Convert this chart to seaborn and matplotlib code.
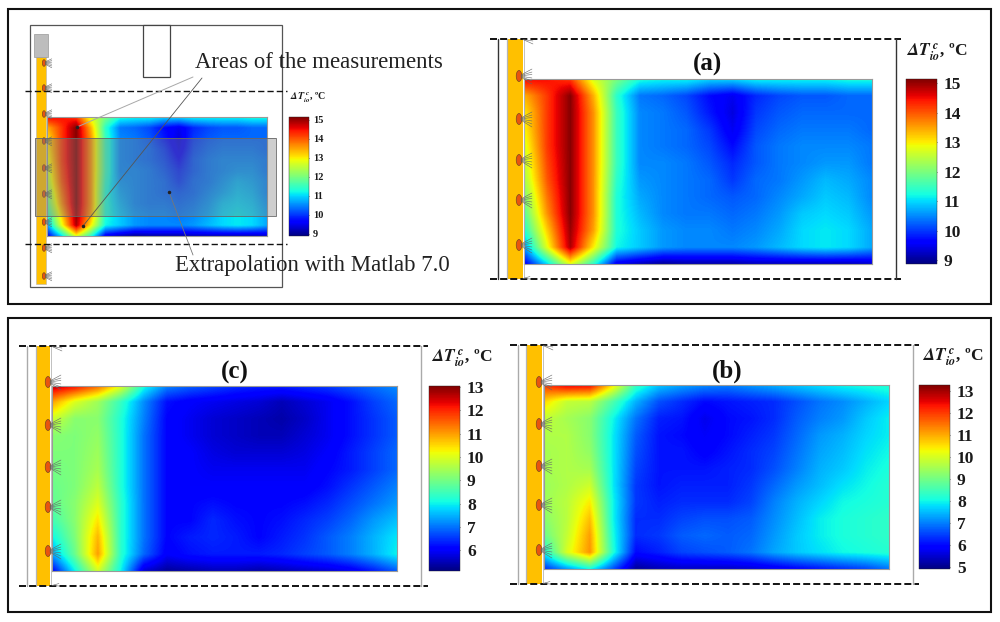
import numpy as np
import matplotlib
matplotlib.use("Agg")
import matplotlib.pyplot as plt
from matplotlib.patches import Rectangle, Ellipse
import seaborn as sns

# temperature difference fields, rows top to bottom, columns left to right
field_a = [
    [14.6, 14.5, 14.2, 12.7, 12.0, 11.3, 11.2, 11.2, 11.0, 11.0, 11.2, 11.2, 11.2, 11.2, 11.3, 11.3],
    [13.4, 14.2, 15.1, 13.4, 11.4, 10.4, 10.3, 10.1, 9.7, 9.5, 9.9, 10.1, 10.2, 10.2, 10.3, 10.3],
    [13.0, 14.2, 15.1, 13.6, 11.5, 10.5, 10.4, 10.2, 9.8, 9.4, 10.0, 10.2, 10.3, 10.3, 10.3, 10.3],
    [12.9, 14.2, 15.1, 13.6, 11.5, 10.5, 10.4, 10.3, 10.0, 9.5, 10.1, 10.3, 10.4, 10.4, 10.4, 10.3],
    [12.7, 14.2, 15.1, 13.6, 11.5, 10.5, 10.4, 10.3, 10.1, 9.7, 10.2, 10.4, 10.5, 10.5, 10.5, 10.4],
    [12.5, 14.1, 15.1, 13.6, 11.5, 10.5, 10.5, 10.4, 10.2, 9.9, 10.2, 10.4, 10.5, 10.6, 10.6, 10.4],
    [12.3, 14.0, 15.1, 13.6, 11.4, 10.6, 10.5, 10.4, 10.3, 10.0, 10.3, 10.4, 10.6, 10.8, 10.7, 10.5],
    [12.0, 13.8, 15.1, 13.6, 11.3, 10.7, 10.5, 10.4, 10.3, 10.2, 10.3, 10.5, 10.7, 10.9, 10.8, 10.5],
    [11.7, 13.6, 15.1, 13.6, 11.3, 10.8, 10.5, 10.4, 10.4, 10.3, 10.4, 10.6, 10.9, 11.0, 10.9, 10.6],
    [11.3, 13.2, 15.0, 13.5, 11.3, 10.9, 10.6, 10.5, 10.5, 10.4, 10.5, 10.7, 11.0, 11.1, 11.0, 10.7],
    [10.6, 12.8, 14.9, 13.0, 11.2, 10.9, 10.6, 10.5, 10.5, 10.5, 10.6, 10.8, 11.0, 11.1, 11.0, 10.7],
    [9.5, 11.0, 12.8, 11.4, 9.5, 9.2, 9.0, 9.1, 9.1, 9.1, 9.2, 9.2, 9.2, 9.2, 9.2, 9.3],
]
field_c = [
    [12.8, 12.4, 11.6, 10.2, 8.2, 7.2, 6.9, 6.7, 6.5, 6.4, 6.4, 6.5, 6.6, 6.8, 7.0, 7.2],
    [11.0, 10.0, 9.4, 8.4, 7.2, 6.2, 6.0, 5.9, 5.8, 5.7, 5.5, 5.7, 5.9, 6.2, 6.6, 6.9],
    [9.9, 9.2, 9.2, 8.2, 7.1, 6.1, 5.9, 5.7, 5.6, 5.5, 5.4, 5.6, 5.9, 6.2, 6.5, 6.8],
    [9.2, 9.1, 9.3, 8.2, 7.0, 6.1, 5.9, 5.7, 5.6, 5.5, 5.5, 5.7, 5.9, 6.2, 6.5, 6.8],
    [9.1, 9.1, 9.4, 8.2, 7.0, 6.1, 6.0, 5.8, 5.7, 5.7, 5.7, 5.8, 6.0, 6.3, 6.6, 6.9],
    [9.0, 9.1, 9.5, 8.2, 7.0, 6.1, 6.0, 5.9, 5.9, 5.9, 5.9, 5.9, 6.1, 6.3, 6.6, 6.9],
    [8.9, 9.1, 9.7, 8.2, 7.0, 6.1, 6.0, 6.0, 6.0, 6.0, 6.0, 6.0, 6.2, 6.5, 6.8, 7.1],
    [8.8, 9.2, 10.0, 8.3, 7.0, 6.1, 6.1, 6.2, 6.1, 6.1, 6.1, 6.2, 6.4, 6.7, 7.0, 7.3],
    [8.5, 9.2, 10.4, 8.3, 7.0, 6.1, 6.1, 6.4, 6.2, 6.1, 6.2, 6.4, 6.6, 6.9, 7.3, 7.6],
    [8.0, 9.1, 10.8, 8.3, 7.0, 6.1, 6.3, 6.4, 6.3, 6.1, 6.3, 6.5, 6.8, 7.1, 7.5, 7.9],
    [7.4, 8.9, 11.0, 8.3, 6.9, 6.0, 6.2, 6.3, 6.3, 6.3, 6.4, 6.6, 6.8, 7.1, 7.5, 8.0],
    [6.0, 8.0, 9.9, 8.0, 5.7, 5.3, 5.4, 5.5, 5.5, 5.4, 5.5, 5.6, 5.7, 5.9, 6.3, 6.8],
]
field_b = [
    [12.0, 12.6, 12.5, 10.5, 8.4, 7.6, 7.3, 7.1, 7.0, 7.2, 7.4, 7.6, 7.8, 8.0, 8.1, 8.2],
    [10.6, 9.8, 9.7, 8.6, 7.4, 6.6, 6.3, 6.0, 6.1, 6.2, 6.3, 6.6, 6.9, 7.1, 7.4, 7.7],
    [9.8, 9.5, 9.2, 8.0, 6.9, 6.2, 6.1, 5.7, 6.0, 6.1, 6.3, 6.7, 7.0, 7.2, 7.6, 7.9],
    [9.6, 9.6, 9.2, 7.9, 6.7, 6.1, 6.0, 5.8, 6.0, 6.2, 6.4, 6.8, 7.2, 7.4, 7.7, 7.9],
    [9.5, 9.6, 9.3, 7.9, 6.6, 6.1, 6.1, 5.9, 6.1, 6.3, 6.5, 6.9, 7.3, 7.5, 7.8, 8.0],
    [9.5, 9.6, 9.5, 7.9, 6.5, 6.1, 6.1, 6.1, 6.2, 6.3, 6.6, 7.0, 7.4, 7.6, 7.9, 8.1],
    [9.4, 9.6, 9.9, 7.9, 6.4, 6.1, 6.2, 6.2, 6.2, 6.4, 6.8, 7.2, 7.5, 7.8, 8.0, 8.2],
    [9.4, 9.7, 10.4, 8.0, 6.4, 6.2, 6.3, 6.3, 6.3, 6.5, 7.0, 7.4, 7.7, 8.0, 8.1, 8.2],
    [9.2, 9.7, 10.8, 8.0, 6.3, 6.3, 6.5, 6.6, 6.6, 6.7, 7.1, 7.5, 7.9, 8.1, 8.2, 8.3],
    [8.9, 9.8, 11.1, 8.1, 6.3, 6.4, 6.7, 6.8, 6.7, 6.8, 7.2, 7.6, 7.9, 8.1, 8.2, 8.3],
    [8.0, 10.0, 11.2, 8.2, 6.0, 6.2, 6.5, 6.6, 6.7, 6.9, 7.3, 7.6, 7.8, 8.0, 8.1, 8.2],
    [6.3, 7.2, 8.0, 6.6, 5.1, 5.3, 5.4, 5.4, 5.4, 5.5, 5.7, 5.9, 6.1, 6.3, 6.5, 6.9],
]
ticks_a = [9, 10, 11, 12, 13, 14, 15]
ticks_c = [6, 7, 8, 9, 10, 11, 12, 13]
ticks_b = [5, 6, 7, 8, 9, 10, 11, 12, 13]
label = r"$\mathbfit{\Delta T}_{\mathbfit{io}}^{\ \mathbfit{c}}$, ºC"

sns.set_theme(style="white")
plt.rcParams["font.family"] = ["Liberation Serif", "DejaVu Serif"]
plt.rcParams["mathtext.fontset"] = "stix"

W, H = 1000, 622
fig = plt.figure(figsize=(W / 100, H / 100), dpi=100)


def px_axes(x0, y0, x1, y1):
    return fig.add_axes([x0 / W, 1 - y1 / H, (x1 - x0) / W, (y1 - y0) / H])


def heat(field, box, cbox, vmin, vmax, ticks, fs, tick_len=2):
    ax = px_axes(*box)
    cax = px_axes(*cbox)
    grid = np.array(field)
    sns.heatmap(grid, ax=ax, cbar_ax=cax, cmap="jet", vmin=vmin, vmax=vmax,
                xticklabels=False, yticklabels=False,
                cbar_kws={"ticks": ticks})
    mesh = ax.collections[0]
    # smooth the cells the same way the contour plot looks, in data space so jet stays clean
    ax.imshow(grid, cmap=mesh.get_cmap(), norm=mesh.norm, aspect="auto",
              extent=(-0.5, 15.5, 11.5, -0.5), interpolation="bilinear",
              interpolation_stage="data", zorder=1.5)
    ax.set_xlim(0, 15)
    ax.set_ylim(11, 0)
    ax.set_xticks(np.arange(0, 15, 1.435))
    ax.set_yticks([2, 4, 6, 8, 10])
    ax.tick_params(direction="in", length=tick_len, width=0.5, color="#333333",
                   top=True, bottom=True, left=True, right=True,
                   labelbottom=False, labelleft=False)
    for s in ax.spines.values():
        s.set_visible(True)
        s.set_linewidth(0.8)
        s.set_color("#9a9a9a")
    cax.tick_params(direction="in", length=tick_len, width=0.5, color="#333333",
                    labelsize=fs, pad=fs * 0.4, right=True)
    for t in cax.get_yticklabels():
        t.set_fontweight("bold")
        t.set_color("#1a1a1a")
    mesh.colorbar.outline.set_linewidth(0.3)
    return ax


heat(field_a, (524, 79, 872, 264), (906, 79, 937, 264), 8.87, 15.15, ticks_a, 12.5)
heat(field_c, (52, 386, 397, 571), (429, 386, 460, 571), 5.1, 13.05, ticks_c, 12.5)
heat(field_b, (544, 385, 889, 569), (919, 385, 950, 569), 4.9, 13.25, ticks_b, 12.5)
heat(field_a, (47, 117, 267, 236), (289, 117, 309, 236), 8.87, 15.15, ticks_a, 7.5, 1.2)

# schematic and text on one pixel-sized overlay
ov = fig.add_axes([0, 0, 1, 1], zorder=10)
ov.set_xlim(0, W)
ov.set_ylim(H, 0)
ov.axis("off")
ov.patch.set_alpha(0)

YEL = "#FFC000"
DASH = (3.6, 1.6)


def emitter(x, y, s=1.0):
    for dy in [-7, -4, -1.5, 2, 5, 8]:
        ov.plot([x + 2 * s, x + 13 * s], [y + dy * 0.15, y + dy * s], color="#666666", lw=0.4)
    ov.add_patch(Ellipse((x, y), 5.5 * s, 11 * s, fc="#E8540F", ec="#7a4a20", lw=0.5))


def panel_frame(xl, xr, ytop, ybot, bx0, bx1, barx0, barx1, ys, ecol, cols="#333333"):
    ov.add_patch(Rectangle((barx0, ytop), barx1 - barx0, ybot - ytop, fc=YEL, ec="none"))
    ov.plot([barx0 - 1, barx0 - 1], [ytop, ybot], color="#b5b5b5", lw=0.9)
    ov.plot([barx1 + 0.5, barx1 + 0.5], [ytop, ybot], color="#b5b5b5", lw=0.6)
    ov.plot([xl, xr], [ytop, ytop], color="#111111", lw=1.4, dashes=DASH)
    ov.plot([xl, xr], [ybot, ybot], color="#111111", lw=1.4, dashes=DASH)
    ov.plot([bx0, bx0], [ytop, ybot], color=cols, lw=1.0)
    ov.plot([bx1, bx1], [ytop, ybot], color=cols, lw=1.0)
    for y in ys:
        emitter(ecol, y)
    # cut-off emitters on the dashed limits
    for dy in [2, 5]:
        ov.plot([ecol + 4, ecol + 14], [ytop + 0.5, ytop + dy], color="#666666", lw=0.4)
    for dy in [-1.5, 1]:
        ov.plot([ecol + 4, ecol + 11], [ybot - 0.5, ybot + dy - 1], color="#666666", lw=0.4)


panel_frame(490, 901, 39, 279, 498, 896, 508, 523, [76, 119, 160, 200, 245], 519)
panel_frame(19, 428, 346, 586, 27, 421, 37, 50, [382, 425, 467, 507, 551], 48, "#aaaaaa")
panel_frame(510, 919, 345, 584, 518, 913, 527, 542, [382, 424, 466, 505, 550], 539, "#aaaaaa")

# outer frames
ov.add_patch(Rectangle((8, 9), 983, 295, fc="none", ec="#111111", lw=1.5))
ov.add_patch(Rectangle((8, 318), 983, 294, fc="none", ec="#111111", lw=1.5))

# inset schematic
ov.add_patch(Rectangle((30, 25), 252, 262, fc="none", ec="#555555", lw=0.9))
ov.add_patch(Rectangle((143, 25), 27, 52, fc="white", ec="#444444", lw=0.9))
ov.add_patch(Rectangle((36, 57), 10, 227, fc=YEL, ec="#b5b5b5", lw=0.4))
ov.add_patch(Rectangle((34, 34), 14, 23, fc="#bdbdbd", ec="#999999", lw=0.5))
for y in [63, 88, 114, 141, 168, 194, 222, 248, 276]:
    emitter(44, y, 0.6)
ov.plot([25, 287], [91, 91], color="#111111", lw=1.0, dashes=(4.5, 2.2))
ov.plot([25, 287], [244, 244], color="#111111", lw=1.0, dashes=(4.5, 2.2))
ov.add_patch(Rectangle((35, 138), 241, 78, fc="#7f7f7f", ec="none", alpha=0.38))
ov.add_patch(Rectangle((35, 138), 241, 78, fc="none", ec="#666666", lw=0.6))
ov.plot([193, 77], [77, 127], color="#a8a8a8", lw=0.7)
ov.plot([202, 83], [78, 226], color="#555555", lw=0.6)
ov.plot([193, 169], [255, 192], color="#777777", lw=0.6)
ov.plot([77, 83, 169], [127, 226, 192], ls="none", marker="o", ms=1.5, color="#222222")

ov.text(195, 62, "Areas of the measurements", fontsize=16.4, color="#222222", va="center", ha="left")
ov.text(175, 266, "Extrapolation with Matlab 7.0", fontsize=16.4, color="#222222", va="center", ha="left")

for x, y, fs, t in [(937, 52, 12.5, label), (462, 358, 12.5, label), (953, 357, 12.5, label), (308, 98, 7.2, label)]:
    ov.text(x, y, t, fontsize=fs, fontweight="bold", ha="center", va="center", color="#1a1a1a")

for x, y, t in [(707, 64, "(a)"), (235, 372, "(c)"), (727, 371, "(b)")]:
    ov.text(x, y, t, fontsize=18, fontweight="bold", ha="center", va="center", color="#111111")

fig.savefig("out.png", dpi=100)
